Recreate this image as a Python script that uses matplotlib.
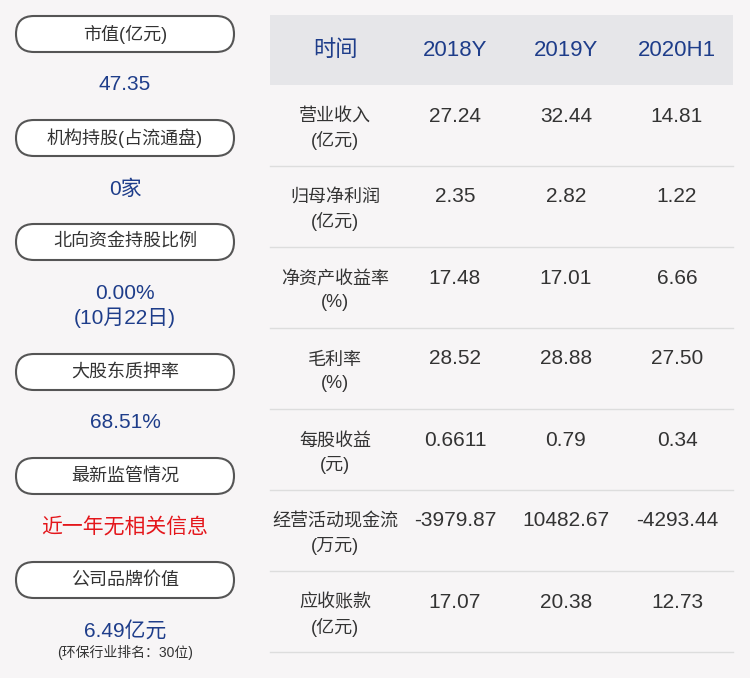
import matplotlib
matplotlib.use("Agg")
import matplotlib.pyplot as plt
from matplotlib.patches import FancyBboxPatch, Rectangle

plt.rcParams['font.family'] = ['Liberation Sans', 'Noto Sans CJK SC', 'DejaVu Sans']

left_labels = ["市值(亿元)", "机构持股(占流通盘)", "北向资金持股比例", "大股东质押率", "最新监管情况", "公司品牌价值"]
left_values = ["47.35", "0家", "0.00%\n(10月22日)", "68.51%", "近一年无相关信息", "6.49亿元"]
left_note = "(环保行业排名：30位)"

headers = ["时间", "2018Y", "2019Y", "2020H1"]
row_labels = ["营业收入\n(亿元)", "归母净利润\n(亿元)", "净资产收益率\n(%)", "毛利率\n(%)",
              "每股收益\n(元)", "经营活动现金流\n(万元)", "应收账款\n(亿元)"]
vals_2018 = ["27.24", "2.35", "17.48", "28.52", "0.6611", "-3979.87", "17.07"]
vals_2019 = ["32.44", "2.82", "17.01", "28.88", "0.79", "10482.67", "20.38"]
vals_2020 = ["14.81", "1.22", "6.66", "27.50", "0.34", "-4293.44", "12.73"]

BG = "#f7f5f6"
BLUE = "#1e3d8a"
RED = "#e4161b"
DARK = "#333333"

fig = plt.figure(figsize=(7.5, 6.78), dpi=100, facecolor=BG)
ax = fig.add_axes([0, 0, 1, 1])
ax.set_xlim(0, 750); ax.set_ylim(678, 0); ax.axis('off')
ax.set_facecolor(BG)

pill_y = [34, 138, 242, 372, 476, 580]
val_y = [85, 189, 306, 423, 527, 631]
for i, (lab, v) in enumerate(zip(left_labels, left_values)):
    y = pill_y[i]
    ax.add_patch(FancyBboxPatch((16, y - 18), 218, 36,
                                boxstyle="round,pad=0,rounding_size=18",
                                fc="white", ec="#555555", lw=1.5))
    ax.text(125, y, lab, ha='center', va='center', fontsize=13, color=DARK)
    col = RED if i == 4 else BLUE
    ax.text(125, val_y[i], v, ha='center', va='center', fontsize=15, color=col,
            linespacing=1.3)
ax.text(125, 653, left_note, ha='center', va='center', fontsize=10, color=DARK)

# table
ax.add_patch(Rectangle((270, 15), 463, 70, fc="#e6e6e9", ec='none'))
col_x = [335, 455, 566, 677]
for x, h in zip(col_x, headers):
    ax.text(x, 50, h, ha='center', va='center', fontsize=16, color=BLUE)
row_h = 81
for r in range(len(row_labels)):
    top = 85 + r * row_h
    ax.plot([270, 733], [top + row_h, top + row_h], color="#dddddd", lw=1)
    ax.text(335, top + 44, row_labels[r], ha='center', va='center', fontsize=13,
            color=DARK, linespacing=1.45)
    for x, vals in zip(col_x[1:], [vals_2018, vals_2019, vals_2020]):
        ax.text(x, top + 31, vals[r], ha='center', va='center', fontsize=15, color=DARK)

fig.savefig("out.png", dpi=100, facecolor=BG)
